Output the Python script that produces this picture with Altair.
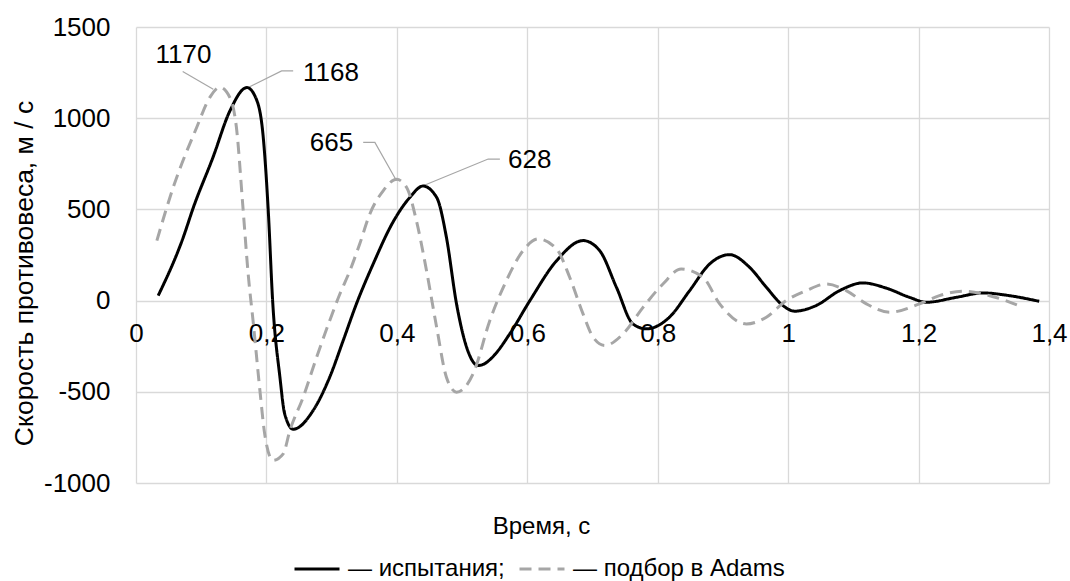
import altair as alt
import pandas as pd

FONT = "Liberation Sans"
SERIES = ["испытания", "подбор в Adams"]

# experimental series (black solid)
t_test = [0.034, 0.0725, 0.088, 0.118, 0.144, 0.170, 0.185, 0.195, 0.203, 0.2095,
          0.2207, 0.228, 0.241, 0.2717, 0.297, 0.3177, 0.338, 0.3637, 0.394, 0.420, 0.440,
          0.461, 0.476, 0.4915, 0.507, 0.5246, 0.535, 0.548, 0.573, 0.604, 0.645, 0.6855,
          0.711, 0.7367, 0.762, 0.7826, 0.818, 0.849, 0.8797, 0.910, 0.941, 0.9666, 0.992,
          1.010, 1.043, 1.079, 1.1146, 1.150, 1.186, 1.212, 1.258, 1.2986, 1.3395, 1.385]
v_test = [27, 347, 511, 785, 1040, 1168, 1100, 900, 480, 0,
          -420, -621, -705, -602, -420, -219, -18, 201, 430, 566, 628,
          566, 347, -18, -256, -356, -345, -305, -183, 0, 219, 329,
          274, 73, -128, -155, -91, 55, 201, 252, 182, 73, -27,
          -58, -27, 55, 97, 69, 18, -9, 18, 42, 27, -4]

# Adams fit series (grey dashed)
t_fit = [0.032, 0.057, 0.093, 0.113, 0.1287, 0.144, 0.154, 0.164, 0.172, 0.180, 0.190,
         0.1977, 0.210, 0.2257, 0.236, 0.2564, 0.277, 0.297, 0.3126, 0.328, 0.343, 0.3586,
         0.379, 0.3995, 0.415, 0.430, 0.4455, 0.461, 0.476, 0.4915, 0.517, 0.5425, 0.568,
         0.5936, 0.6166, 0.645, 0.665, 0.6855, 0.701, 0.719, 0.7468, 0.7775, 0.808, 0.836,
         0.8695, 0.895, 0.936, 0.9666, 0.997, 1.028, 1.0585, 1.089, 1.120, 1.1556, 1.2015,
         1.232, 1.268, 1.309, 1.360]
v_fit = [329, 620, 949, 1113, 1170, 1113, 949, 511, 146, -128, -493,
         -740, -876, -840, -712, -529, -310, -110, 36, 164, 310, 475,
         602, 665, 620, 438, 164, -146, -420, -502, -401, -110, 110,
         274, 338, 283, 128, -73, -201, -246, -183, -37, 91, 173,
         128, -18, -128, -91, 0, 55, 91, 55, -18, -64, -18,
         27, 51, 27, -37]

x_ticks = [0, 0.2, 0.4, 0.6, 0.8, 1.0, 1.2, 1.4]
y_ticks = [-1000, -500, 0, 500, 1000, 1500]

# peak annotations
lab_text = ["1170", "1168", "665", "628"]
lab_t = [0.0728, 0.256, 0.333, 0.5706]
lab_v = [1347, 1246, 862, 769]
lab_align = ["center", "left", "right", "left"]

# leader lines (id, t, v)
lead_id = [0, 0, 1, 1, 1, 2, 2, 2, 3, 3, 3]
lead_ord = [0, 1, 0, 1, 2, 0, 1, 2, 0, 1, 2]
lead_t = [0.1185, 0.0716, 0.172, 0.2233, 0.241, 0.3995, 0.3663, 0.3484, 0.4403, 0.540, 0.558]
lead_v = [1159, 1256, 1168, 1259, 1259, 657, 867, 867, 630, 776, 776]

df = pd.concat([
    pd.DataFrame({"t": t_test, "v": v_test, "s": SERIES[0]}),
    pd.DataFrame({"t": t_fit, "v": v_fit, "s": SERIES[1]}),
], ignore_index=True)
labels = pd.DataFrame({"t": lab_t, "v": lab_v, "txt": lab_text, "al": lab_align})
leaders = pd.DataFrame({"id": lead_id, "o": lead_ord, "t": lead_t, "v": lead_v})

W, H = 913, 456
YMIN, YMAX = -1000, 1500
zero_off = -H * (0 - YMIN) / (YMAX - YMIN)

xscale = alt.Scale(domain=[0, 1.4], nice=False, zero=False)
yscale = alt.Scale(domain=[YMIN, YMAX], nice=False, zero=False)

xaxis = alt.Axis(values=x_ticks, title="Время, с",
                 labelExpr="replace(format(datum.value, '.1~f'), '.', ',')",
                 offset=zero_off, titleX=405, titleY=233, titleAlign="center",
                 titleBaseline="alphabetic", titleFontSize=24,
                 labelPadding=20, labelFlush=False, labelOverlap=False)
yaxis = alt.Axis(values=y_ticks, title="Скорость противовеса, м / с",
                 labelExpr="'' + datum.value",
                 titleX=-104, titleY=246, titleBaseline="alphabetic", titleFontSize=26.5,
                 labelPadding=26)

leg = alt.Legend(title=None,
                 labelExpr="'— ' + datum.label + (datum.label == 'испытания' ? ';' : '')")

lines = alt.Chart(df).mark_line(strokeWidth=3, interpolate="monotone").encode(
    x=alt.X("t:Q", scale=xscale, axis=xaxis),
    y=alt.Y("v:Q", scale=yscale, axis=yaxis),
    color=alt.Color("s:N", scale=alt.Scale(domain=SERIES, range=["#000000", "#A6A6A6"]), legend=leg),
    strokeDash=alt.StrokeDash("s:N", scale=alt.Scale(domain=SERIES, range=[[1, 0], [12, 7]]), legend=leg),
)

lead = alt.Chart(leaders).mark_line(color="#A6A6A6", strokeWidth=1.2).encode(
    x=alt.X("t:Q", scale=xscale),
    y=alt.Y("v:Q", scale=yscale),
    detail="id:N",
    order="o:Q",
)

texts = []
for al in ["center", "left", "right"]:
    texts.append(
        alt.Chart(labels).transform_filter(alt.datum.al == al).mark_text(
            align=al, baseline="middle", fontSize=26, font=FONT, color="#000000"
        ).encode(x=alt.X("t:Q", scale=xscale), y=alt.Y("v:Q", scale=yscale), text="txt:N")
    )

chart = alt.layer(lead, lines, *texts).properties(
    width=W, height=H,
    autosize=alt.AutoSizeParams(type="none"),
    padding={"left": 136, "top": 27, "right": 21, "bottom": 98},
    background="white",
).configure_view(stroke=None).configure_axis(
    grid=True, gridColor="#D9D9D9", gridWidth=1.3, domain=False, ticks=False,
    labelFont=FONT, labelFontSize=26, labelColor="#000000",
    titleFont=FONT, titleColor="#000000", titleFontWeight="normal",
).configure_legend(
    orient="none", legendX=157, legendY=518, direction="horizontal",
    symbolType="stroke", symbolSize=2025, symbolStrokeWidth=3,
    labelFont=FONT, labelFontSize=24, labelColor="#000000", labelOffset=7,
    labelLimit=600, columnPadding=8,
)

chart.save("out.html", embed_options={"renderer": "svg", "actions": False})
